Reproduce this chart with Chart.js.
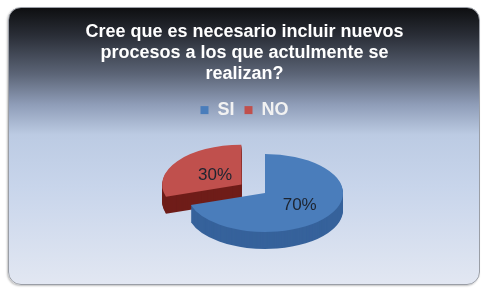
<!DOCTYPE html>
<html>
<head>
<meta charset="utf-8">
<script src="https://cdn.jsdelivr.net/npm/chart.js@4/dist/chart.umd.min.js"></script>
<style>
  html, body { margin: 0; padding: 0; background: #fff; }
  #wrap {
    position: absolute; left: 8px; top: 7px; width: 472px; height: 278px;
    border: 1px solid #9a9ea6; border-radius: 13px; box-sizing: border-box;
    background: linear-gradient(to bottom, #0e0f11 0%, #2a2e37 10%, #5c6577 24%, #8f9db8 35%, #bccbe3 46%, #c8d5eb 65%, #e2e7f2 100%);
    box-shadow: -1px 1px 2px rgba(0,0,0,0.25);
  }
  #box { position: absolute; left: 0; top: 0; width: 489px; height: 293px; }
</style>
</head>
<body>
<div id="wrap"></div>
<div id="box"><canvas id="chart"></canvas></div>
<script>
const categories = ['SI', 'NO'];
const percentages = [70, 30];
const titleLines = ['Cree que es necesario incluir nuevos', 'procesos a los que actulmente se', 'realizan?'];

const topColors = ['#4a7dbb', '#c0504d'];
const sideColors = ['#36629b', '#6f1d19'];

// squash the flat pie into an ellipse and extrude it
const tilt = 0.5;
const depth = 17;
const center = { x: 265, y: 193 };

const pie3d = {
    id: 'pie3d',
    beforeDatasetsDraw(chart) {
        const ctx = chart.ctx;
        const meta = chart.getDatasetMeta(0);
        const cx = meta.data[0].x;
        const cy = meta.data[0].y;

        const drawLayer = (dy, colors) => {
            ctx.save();
            ctx.translate(center.x, center.y + dy);
            ctx.scale(1, tilt);
            ctx.translate(-cx, -cy);
            meta.data.forEach((el, i) => {
                const o = el.options;
                const bg = o.backgroundColor;
                o.backgroundColor = colors[i];
                el.draw(ctx);
                o.backgroundColor = bg;
            });
            ctx.restore();
        };

        for (let d = depth; d >= 1; d--) drawLayer(d, sideColors);
        drawLayer(0, topColors);

        // percentage labels
        ctx.save();
        ctx.font = '17px "Liberation Sans", Arial, sans-serif';
        ctx.fillStyle = '#1d2430';
        ctx.textAlign = 'center';
        ctx.textBaseline = 'middle';
        meta.data.forEach((el, i) => {
            const a = (el.startAngle + el.endAngle) / 2;
            const off = (el.options.offset || 0) / 4;
            const r = el.outerRadius * (i === 0 ? 0.55 : 0.42) + off;
            const x = el.x + Math.cos(a) * r;
            const y = el.y + Math.sin(a) * r;
            ctx.fillText(percentages[i] + '%', center.x + (x - cx), center.y + (y - cy) * tilt);
        });
        ctx.restore();
        return false;
    }
};

new Chart(document.getElementById('chart'), {
    type: 'pie',
    data: {
        labels: categories,
        datasets: [{
            data: percentages,
            backgroundColor: topColors,
            borderWidth: 0,
            offset: [0, 116],
            radius: 78
        }]
    },
    options: {
        responsive: true,
        maintainAspectRatio: false,
        animation: false,
        events: [],
        layout: { padding: { top: 0, bottom: 10, left: 20, right: 20 } },
        plugins: {
            title: {
                display: true,
                text: titleLines,
                color: '#ffffff',
                font: { family: '"Liberation Sans", Arial, sans-serif', size: 18, weight: 'bold', lineHeight: 1.15 },
                padding: { top: 22, bottom: 7 }
            },
            legend: {
                display: true,
                position: 'top',
                labels: {
                    color: '#f2f2f2',
                    boxWidth: 8,
                    boxHeight: 8,
                    padding: 10,
                    font: { family: '"Liberation Sans", Arial, sans-serif', size: 18, weight: 'bold' }
                }
            },
            tooltip: { enabled: false }
        }
    },
    plugins: [pie3d]
});
</script>
</body>
</html>
